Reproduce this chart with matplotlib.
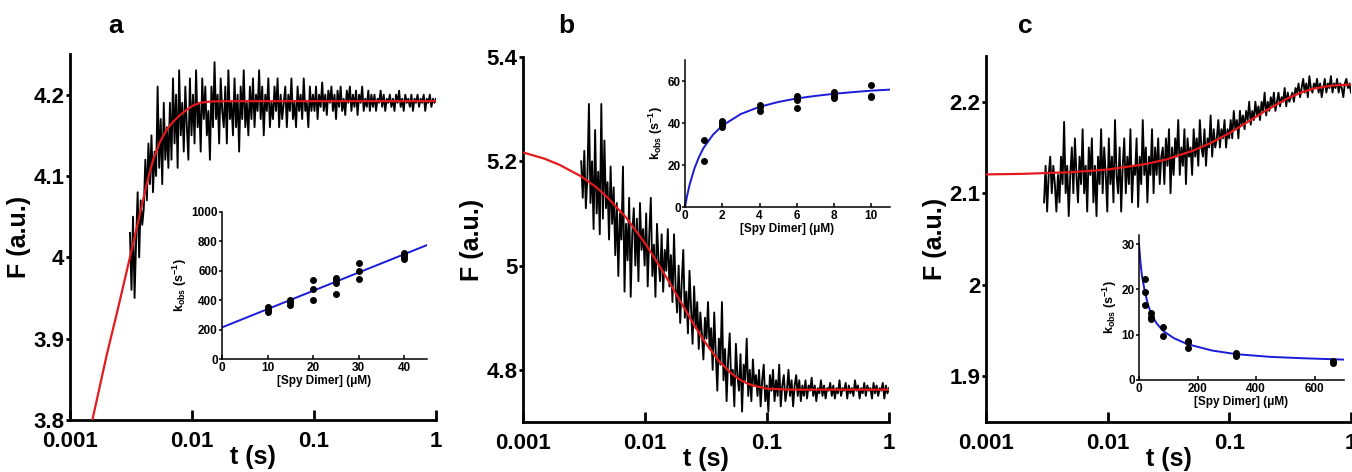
import numpy as np
import matplotlib
matplotlib.use("Agg")
import matplotlib.pyplot as plt
from matplotlib.ticker import FixedLocator, FixedFormatter

plt.rcParams['font.family'] = ['Liberation Sans', 'DejaVu Sans']
plt.rcParams['font.weight'] = 'bold'
plt.rcParams['mathtext.fontset'] = 'custom'
plt.rcParams['mathtext.bf'] = 'Liberation Sans:bold'
plt.rcParams['mathtext.rm'] = 'Liberation Sans:bold'
plt.rcParams['mathtext.default'] = 'bf'

# ---- main stopped-flow traces ----
trace_a_start = 0.0031
trace_a = [
    4.03, 3.96, 4.05, 3.95, 4.02, 4.08, 4.00, 4.07, 4.04,
    4.06, 4.12, 4.07, 4.14, 4.09, 4.15, 4.08, 4.13,
    4.10, 4.21, 4.11, 4.17, 4.09, 4.19, 4.12, 4.16, 4.11,
    4.19, 4.12, 4.22, 4.14, 4.20, 4.11, 4.23, 4.15, 4.19, 4.13, 4.21, 4.16, 4.12, 4.22, 4.15,
    4.20, 4.14, 4.23, 4.16, 4.19, 4.13, 4.22, 4.17, 4.21, 4.15,
    4.18, 4.12, 4.21, 4.16, 4.24, 4.17, 4.20, 4.14, 4.22, 4.18,
    4.16, 4.21, 4.14, 4.23, 4.17, 4.19, 4.15, 4.22, 4.16, 4.20,
    4.13, 4.21, 4.17, 4.23, 4.16, 4.19, 4.15, 4.21,
    4.17, 4.22, 4.16, 4.20, 4.18, 4.23, 4.17, 4.21, 4.15, 4.20,
    4.18, 4.22, 4.16, 4.19, 4.17, 4.21, 4.18, 4.22, 4.16, 4.20,
    4.17, 4.19, 4.21, 4.16, 4.20, 4.18, 4.22, 4.17, 4.19, 4.16,
    4.21, 4.18, 4.20, 4.17, 4.22, 4.18, 4.19, 4.16, 4.21, 4.18, 4.20,
    4.18, 4.21, 4.17, 4.20, 4.185, 4.215, 4.18, 4.20, 4.175, 4.205,
    4.19, 4.21, 4.18, 4.20, 4.17, 4.205, 4.185, 4.21, 4.18, 4.195,
    4.175, 4.205, 4.19, 4.21, 4.18, 4.20, 4.185, 4.205, 4.175, 4.20,
    4.19, 4.21, 4.18, 4.195, 4.185, 4.205, 4.18, 4.20,
    4.185, 4.20, 4.18, 4.195, 4.19, 4.205, 4.185, 4.20, 4.18, 4.195,
    4.19, 4.20, 4.185, 4.195, 4.18, 4.20, 4.19, 4.205, 4.185, 4.195,
    4.18, 4.20, 4.19, 4.195, 4.185, 4.20, 4.18, 4.195, 4.19, 4.20,
    4.185, 4.195, 4.19, 4.20, 4.18, 4.195, 4.19, 4.20, 4.185, 4.195,
    4.19, 4.195,
]

trace_b_start = 0.003
trace_b = [
    5.20, 5.13, 5.22, 5.11, 5.17, 5.31,
    5.12, 5.20, 5.07, 5.26, 5.10, 5.18, 5.06, 5.31, 5.09, 5.24, 5.11, 5.16, 5.05, 5.19, 5.08,
    5.15, 5.02, 5.12, 4.98, 5.10, 5.05, 5.19, 4.95, 5.08, 5.01,
    5.13, 4.94, 5.06, 5.11, 5.00, 5.09, 4.97, 5.12, 5.03, 5.07,
    5.00, 5.10, 4.96, 5.06, 5.13, 4.98, 5.04, 4.94, 5.08, 5.01,
    4.97, 5.06, 4.95, 5.03, 4.99, 5.07, 4.96,
    5.02, 4.93, 5.06, 4.96, 4.91, 5.00, 4.89, 4.97, 5.03, 4.90,
    4.95, 4.87, 4.99, 4.92, 4.85, 4.96, 4.88, 4.93, 4.84, 4.91,
    4.87, 4.82, 4.90, 4.86, 4.93, 4.84,
    4.88, 4.80, 4.91, 4.83, 4.76, 4.86, 4.81, 4.93, 4.78, 4.84,
    4.74, 4.82, 4.87, 4.77, 4.80, 4.73, 4.85, 4.79, 4.76, 4.83,
    4.72, 4.81, 4.78, 4.86, 4.75, 4.80, 4.74, 4.82, 4.77, 4.79,
    4.75, 4.80, 4.73, 4.78, 4.81, 4.74, 4.77, 4.72, 4.79, 4.76,
    4.80, 4.74, 4.78, 4.75, 4.81, 4.73, 4.77, 4.79, 4.74, 4.76,
    4.80, 4.75, 4.78, 4.73, 4.77, 4.79, 4.75, 4.78, 4.74, 4.77,
    4.75, 4.78, 4.745, 4.77, 4.76, 4.785, 4.75, 4.77, 4.74, 4.765,
    4.755, 4.78, 4.75, 4.77, 4.745, 4.765, 4.76, 4.775, 4.75, 4.77,
    4.745, 4.765, 4.755, 4.78, 4.75, 4.765, 4.76, 4.775, 4.745, 4.77,
    4.755, 4.765, 4.75, 4.78, 4.76, 4.77, 4.745, 4.765, 4.755, 4.775,
    4.75, 4.77, 4.76, 4.765, 4.745, 4.775, 4.755, 4.77, 4.75, 4.765,
    4.76, 4.775, 4.745, 4.77, 4.755, 4.765,
]

trace_c_start = 0.003
trace_c = [
    2.09, 2.13, 2.08, 2.12, 2.14, 2.10, 2.13, 2.11, 2.08, 2.12,
    2.09, 2.14, 2.11, 2.178, 2.10, 2.13, 2.075, 2.12,
    2.15, 2.10, 2.16, 2.12, 2.09, 2.14, 2.11, 2.17, 2.10, 2.13,
    2.08, 2.15, 2.12, 2.16, 2.09, 2.13, 2.075, 2.14, 2.11, 2.17,
    2.10, 2.15, 2.12, 2.08, 2.16, 2.11, 2.14, 2.09, 2.18, 2.12,
    2.10, 2.15, 2.08, 2.13, 2.16, 2.10, 2.14, 2.11, 2.17, 2.09,
    2.13, 2.12, 2.16, 2.085, 2.14, 2.11, 2.18, 2.12, 2.15, 2.09,
    2.14, 2.12, 2.17, 2.10, 2.15, 2.12, 2.16, 2.11, 2.14,
    2.15, 2.11, 2.16, 2.13, 2.17, 2.10, 2.15, 2.12, 2.16, 2.14,
    2.18, 2.12, 2.15, 2.13, 2.17, 2.11, 2.16, 2.14, 2.15, 2.12,
    2.17, 2.14, 2.16, 2.13, 2.18, 2.15, 2.14, 2.17, 2.13, 2.16,
    2.15, 2.185, 2.14, 2.17, 2.15, 2.16, 2.18, 2.15, 2.17, 2.16,
    2.18, 2.15, 2.17, 2.16,
    2.18, 2.16, 2.19, 2.17, 2.18, 2.16, 2.19, 2.175, 2.185, 2.17,
    2.19, 2.18, 2.20, 2.175, 2.19, 2.18, 2.20, 2.185, 2.195, 2.18,
    2.20, 2.19, 2.21, 2.185, 2.20, 2.19, 2.205, 2.195, 2.21, 2.19,
    2.20, 2.21, 2.195, 2.205, 2.20, 2.215, 2.195, 2.21, 2.20, 2.205,
    2.21, 2.20, 2.215,
    2.21, 2.22, 2.205, 2.215, 2.225, 2.21, 2.22, 2.205, 2.228, 2.215,
    2.21, 2.22, 2.215, 2.225, 2.21, 2.22, 2.205, 2.215, 2.225, 2.21,
    2.22, 2.215, 2.228, 2.21, 2.22, 2.215, 2.225, 2.21, 2.22, 2.215,
    2.205, 2.22, 2.225, 2.215, 2.22, 2.21,
]

# ---- red fitted curves ----
fit_a_t = [0.0015, 0.002, 0.0025, 0.0031, 0.0037, 0.00425, 0.0048, 0.00547, 0.0062,
           0.00703, 0.008, 0.00905, 0.0103, 0.01164, 0.0135, 0.01486, 0.02, 1.0]
fit_a = [3.795, 3.88, 3.94, 4.00, 4.05, 4.09, 4.12, 4.142, 4.157,
         4.167, 4.175, 4.1815, 4.187, 4.190, 4.1912, 4.1917, 4.192, 4.192]

fit_b_t = [0.001, 0.0015, 0.002, 0.003, 0.004, 0.005, 0.007, 0.01, 0.013, 0.016, 0.02,
           0.025, 0.03, 0.04, 0.05, 0.06, 0.07, 0.08, 0.1, 0.15, 1.0]
fit_b = [5.217, 5.205, 5.193, 5.171, 5.150, 5.129, 5.092, 5.043, 5.001, 4.966, 4.927,
         4.888, 4.858, 4.818, 4.795, 4.781, 4.773, 4.769, 4.764, 4.762, 4.762]

fit_c_t = [0.001, 0.002, 0.005, 0.01, 0.02, 0.03, 0.05, 0.07, 0.1, 0.15, 0.2, 0.3,
           0.4, 0.5, 0.7, 1.0]
fit_c = [2.1206, 2.1212, 2.1230, 2.1259, 2.1316, 2.1368, 2.1464, 2.1548, 2.1657,
         2.1799, 2.1904, 2.2036, 2.2107, 2.2145, 2.2177, 2.2188]

# ---- insets: k_obs vs [Spy Dimer] ----
ins_a_x = [10, 10, 10, 10, 15, 15, 15, 20, 20, 20, 25, 25, 25, 25, 30, 30, 30, 40, 40, 40, 40]
ins_a_y = [320, 330, 345, 355, 370, 385, 400, 400, 475, 540, 445, 520, 535, 550,
           545, 600, 655, 680, 695, 710, 720]
ins_a_fit_x = [0, 45]
ins_a_fit_y = [215, 775]

ins_b_x = [1, 1, 2, 2, 2, 2, 4, 4, 4, 6, 6, 6, 6, 8, 8, 8, 8, 10, 10, 10]
ins_b_y = [32, 22, 38, 39, 40, 41, 45.5, 47.5, 48.5, 47, 51, 52, 53, 52, 53, 54, 55, 52.5, 53, 58]
ins_b_fit_x = [0, 0.1, 0.25, 0.5, 0.75, 1, 1.5, 2, 3, 4, 5, 6, 7, 8, 9, 10, 11]
ins_b_fit_y = [0, 4.8, 10.7, 18.2, 23.8, 28.2, 34.4, 38.75, 44.3, 47.7, 50.0, 51.7,
               52.9, 53.9, 54.7, 55.4, 55.9]

ins_c_x = [20, 20, 20, 42, 42, 42, 83, 83, 166, 166, 166, 332, 332, 332, 664, 664]
ins_c_y = [22.3, 19.5, 16.5, 14.8, 14.0, 13.5, 11.6, 9.8, 8.7, 8.3, 7.1, 5.9, 5.5, 5.2, 4.3, 3.8]
ins_c_fit_x = [0, 5, 10, 20, 30, 42, 60, 83, 120, 166, 250, 332, 450, 560, 700]
ins_c_fit_y = [30, 26, 23, 19.5, 16.8, 14.5, 12.5, 10.8, 9.2, 7.9, 6.5, 5.7, 5.1, 4.8, 4.5]

x_ticks = [0.001, 0.01, 0.1, 1]
x_ticklabels = ['0.001', '0.01', '0.1', '1']

W, H = 1352, 472
fig = plt.figure(figsize=(W / 100, H / 100), dpi=100)


def px_axes(x0, y0, x1, y1):
    # pixel box (left, top, right, bottom) -> figure axes
    return fig.add_axes([x0 / W, 1 - y1 / H, (x1 - x0) / W, (y1 - y0) / H])


def style_main(ax, ylim, yticks, yticklabels):
    ax.set_xscale('log')
    ax.set_xlim(0.001, 1)
    ax.set_ylim(*ylim)
    for s in ['top', 'right']:
        ax.spines[s].set_visible(False)
    for s in ['left', 'bottom']:
        ax.spines[s].set_linewidth(2.0)
    ax.xaxis.set_major_locator(FixedLocator(x_ticks))
    ax.xaxis.set_major_formatter(FixedFormatter(x_ticklabels))
    ax.xaxis.set_minor_locator(FixedLocator([]))
    ax.set_yticks(yticks)
    ax.set_yticklabels(yticklabels)
    ax.tick_params(axis='x', direction='in', length=7, width=2, pad=8, labelsize=16)
    ax.tick_params(axis='y', direction='out', length=3, width=2, pad=1, labelsize=16)
    ax.set_xlabel('t (s)', fontsize=18, fontweight='bold', labelpad=-5)
    ax.set_ylabel('F (a.u.)', fontsize=18, fontweight='bold', labelpad=2)
    ax.patch.set_alpha(0)


def style_inset(ax, xlim, xticks, ylim, yticks):
    ax.set_xlim(*xlim)
    ax.set_ylim(*ylim)
    ax.set_xticks(xticks)
    ax.set_yticks(yticks)
    for s in ['top', 'right']:
        ax.spines[s].set_visible(False)
    for s in ['left', 'bottom']:
        ax.spines[s].set_linewidth(1.1)
    ax.tick_params(axis='x', direction='in', length=3, width=1.1, pad=2, labelsize=8.5)
    ax.tick_params(axis='y', direction='out', length=2, width=1.1, pad=1, labelsize=8.5)
    ax.set_xlabel('[Spy Dimer] (\u03bcM)', fontsize=8.5, fontweight='bold', labelpad=1)
    ax.set_ylabel(r'k$_{obs}$ (s$^{-1}$)', fontsize=9, fontweight='bold', labelpad=2)
    ax.patch.set_alpha(0)


red = '#e41a1c'
blue = '#1a1ad8'

# panel a
ax_a = px_axes(70, 54, 436, 420)
t_a = np.geomspace(trace_a_start, 1, len(trace_a))
ax_a.plot(t_a, trace_a, color='black', lw=1.35, zorder=2)
ax_a.plot(fit_a_t, fit_a, color=red, lw=1.6, zorder=3)
style_main(ax_a, (3.8, 4.25), [3.8, 3.9, 4.0, 4.1, 4.2], ['3.8', '3.9', '4', '4.1', '4.2'])

# panel b
ax_b = px_axes(523, 57, 889, 422)
t_b = np.geomspace(trace_b_start, 1, len(trace_b))
ax_b.plot(t_b, trace_b, color='black', lw=1.35, zorder=2)
ax_b.plot(fit_b_t, fit_b, color=red, lw=1.6, zorder=3)
style_main(ax_b, (4.7, 5.4), [4.8, 5.0, 5.2, 5.4], ['4.8', '5', '5.2', '5.4'])

# panel c
ax_c = px_axes(986, 56, 1351, 422)
t_c = np.geomspace(trace_c_start, 1, len(trace_c))
ax_c.plot(t_c, trace_c, color='black', lw=1.35, zorder=2)
ax_c.plot(fit_c_t, fit_c, color=red, lw=1.6, zorder=3)
style_main(ax_c, (1.85, 2.25), [1.9, 2.0, 2.1, 2.2], ['1.9', '2', '2.1', '2.2'])

# insets
in_a = px_axes(222, 212, 427, 359)
in_a.plot(ins_a_fit_x, ins_a_fit_y, color=blue, lw=1.4, zorder=2)
in_a.plot(ins_a_x, ins_a_y, 'o', color='black', ms=4, zorder=3)
style_inset(in_a, (0, 45), [0, 10, 20, 30, 40], (0, 1000), [0, 200, 400, 600, 800, 1000])

in_b = px_axes(685, 60, 890, 207)
in_b.plot(ins_b_fit_x, ins_b_fit_y, color=blue, lw=1.4, zorder=2)
in_b.plot(ins_b_x, ins_b_y, 'o', color='black', ms=4, zorder=3)
style_inset(in_b, (0, 11), [0, 2, 4, 6, 8, 10], (0, 70), [0, 20, 40, 60])

in_c = px_axes(1139, 235, 1344, 380)
in_c.plot(ins_c_fit_x, ins_c_fit_y, color=blue, lw=1.4, zorder=2)
in_c.plot(ins_c_x, ins_c_y, 'o', color='black', ms=4, zorder=3)
style_inset(in_c, (0, 700), [0, 200, 400, 600], (0, 32), [0, 10, 20, 30])

# panel letters
for letter, xp in [('a', 116), ('b', 566), ('c', 1025)]:
    fig.text(xp / W, 1 - 33 / H, letter, fontsize=19, fontweight='bold',
             ha='center', va='baseline')

fig.savefig('out.png', dpi=100)
